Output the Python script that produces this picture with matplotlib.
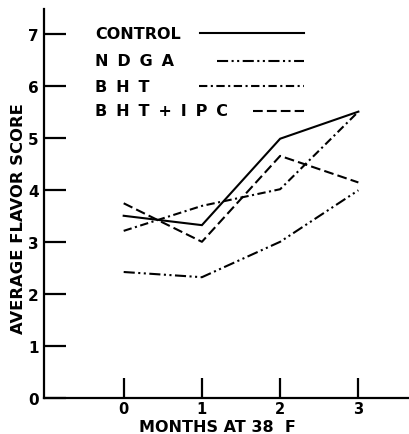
import matplotlib
matplotlib.use("Agg")
import matplotlib.pyplot as plt

plt.rcParams['font.family'] = ['DejaVu Sans']
plt.rcParams['lines.scale_dashes'] = False

months = [0, 1, 2, 3]
control = [3.50, 3.32, 4.98, 5.50]
ndga = [2.42, 2.32, 3.00, 3.99]
bht = [3.21, 3.69, 4.01, 5.50]
bht_ipc = [3.74, 3.00, 4.65, 4.14]

gap = " \u2009"
series_names = ["CONTROL", gap.join("NDGA"), gap.join("BHT"),
                gap.join(["B", "H", "T", "+", "I", "P", "C"])]
y_ticks = [0, 1, 2, 3, 4, 5, 6, 7]
x_ticks = [0, 1, 2, 3]

line_styles = [
    "-",
    (0, (8, 2.5, 1.5, 2.5, 1.5, 2.5)),
    (0, (6, 2.5, 1.5, 2.5)),
    (0, (7, 3)),
]

fig = plt.figure(figsize=(4.10, 4.35), dpi=100)
ax = fig.add_axes([0.108, 0.0828, 0.892, 0.894])

lw = 1.5
for vals, ls in zip([control, ndga, bht, bht_ipc], line_styles):
    ax.plot(months, vals, color="black", lw=lw, linestyle=ls,
            solid_joinstyle="miter")

ax.set_xlim(-1.015, 3.66)
ax.set_ylim(0, 7.47)
for s in ("top", "right"):
    ax.spines[s].set_visible(False)
for s in ("left", "bottom"):
    ax.spines[s].set_linewidth(1.6)

ax.set_yticks(y_ticks)
ax.set_yticklabels([str(v) for v in y_ticks])
ax.set_xticks(x_ticks)
ax.set_xticklabels([str(v) for v in x_ticks])
ax.tick_params(axis="y", direction="in", length=15.5, width=1.6, pad=4,
               labelsize=11)
ax.tick_params(axis="x", direction="in", length=14.5, width=1.6, pad=2.5,
               labelsize=10.5)
for lab in ax.get_xticklabels() + ax.get_yticklabels():
    lab.set_fontweight("bold")

ax.set_ylabel("AVERAGE FLAVOR SCORE", fontsize=11.8, fontweight="bold")
ax.yaxis.set_label_coords(-0.05, 0.465)

# x-axis title sits at the very bottom edge of the figure
fig.text(0.53, 0.0, "MONTHS AT 38  F", fontsize=11.5, fontweight="bold",
         ha="center", va="bottom")

# legend drawn by hand: text column on the left, line sample on the right
leg_y = [0.938, 0.867, 0.802, 0.738]
leg_x0 = [0.426, 0.472, 0.423, 0.571]
for name, ls, y, x0 in zip(series_names, line_styles, leg_y, leg_x0):
    ax.text(0.139, y, name, transform=ax.transAxes, fontsize=11.5,
            fontweight="bold", va="center", ha="left")
    ax.plot([x0, 0.710], [y, y], transform=ax.transAxes, color="black",
            lw=lw, linestyle=ls, clip_on=False)

fig.savefig("out.png", dpi=100)
